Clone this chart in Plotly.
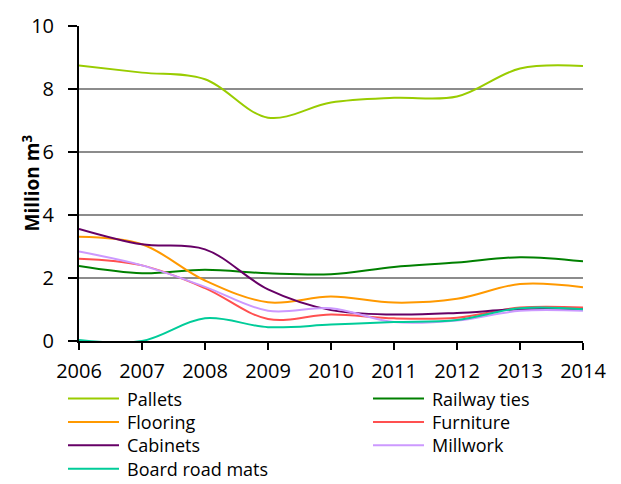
import plotly.graph_objects as go

years = [2006, 2007, 2008, 2009, 2010, 2011, 2012, 2013, 2014]

pallets = [8.75, 8.52, 8.31, 7.09, 7.57, 7.72, 7.76, 8.65, 8.73]
railway_ties = [2.38, 2.15, 2.26, 2.15, 2.12, 2.35, 2.49, 2.66, 2.53]
flooring = [3.31, 3.07, 1.92, 1.23, 1.41, 1.22, 1.34, 1.81, 1.71]
furniture = [2.61, 2.40, 1.68, 0.70, 0.84, 0.72, 0.74, 1.06, 1.06]
cabinets = [3.56, 3.07, 2.91, 1.64, 0.98, 0.84, 0.89, 1.01, 1.01]
millwork = [2.84, 2.40, 1.72, 0.96, 1.04, 0.60, 0.65, 0.96, 0.96]
board_road_mats = [0.03, 0.0, 0.72, 0.44, 0.52, 0.60, 0.67, 1.04, 1.01]

series_names = ["Pallets", "Railway ties", "Flooring", "Furniture",
                "Cabinets", "Millwork", "Board road mats"]
series_values = [pallets, railway_ties, flooring, furniture,
                 cabinets, millwork, board_road_mats]
series_colors = ["#99CC00", "#008000", "#FF9900", "#FF5050",
                 "#660066", "#CC99FF", "#00CC99"]

y_title = "<b>Million m<sup>3</sup></b>"
FONT = "Open Sans"

fig = go.Figure()
for name, vals, col in zip(series_names, series_values, series_colors):
    fig.add_trace(go.Scatter(
        x=years, y=vals, name=name, mode="lines",
        line=dict(color=col, width=2, shape="spline", smoothing=1),
        showlegend=False,
    ))

# plot area geometry (pixels) used to place the manual legend
W, H = 621, 484
ML, MR, MT, MB = 79, 38, 18, 143
PW, PH = W - ML - MR, H - MT - MB


def px_x(px):
    return (px - ML) / PW


def px_y(py):
    return (H - MB - py) / PH


shapes = []
annotations = []
col_x = [68, 373]
row_y = [400, 424, 448, 472]
line_len = 51
for i, (name, col) in enumerate(zip(series_names, series_colors)):
    r, c = divmod(i, 2)
    x0 = col_x[c]
    y0 = row_y[r]
    shapes.append(dict(type="line", xref="paper", yref="paper",
                       x0=px_x(x0), x1=px_x(x0 + line_len),
                       y0=px_y(y0), y1=px_y(y0),
                       line=dict(color=col, width=2)))
    annotations.append(dict(text=name, xref="paper", yref="paper",
                            x=px_x(x0 + line_len + 6), y=px_y(y0),
                            xanchor="left", yanchor="middle", showarrow=False,
                            font=dict(family=FONT, size=18, color="#000000")))

annotations.append(dict(text=y_title, xref="paper", yref="paper",
                        x=px_x(31), y=0.5, xanchor="center", yanchor="middle",
                        textangle=-90, showarrow=False,
                        font=dict(family=FONT, size=19, color="#000000")))

fig.update_layout(
    width=W, height=H,
    margin=dict(l=ML, r=MR, t=MT, b=MB, pad=0),
    paper_bgcolor="white", plot_bgcolor="white",
    font=dict(family=FONT, size=20, color="#000000"),
    shapes=shapes, annotations=annotations,
    showlegend=False,
)
fig.update_xaxes(
    range=[2006, 2014], tickvals=years, ticktext=[str(y) for y in years],
    showline=True, linecolor="#000000", linewidth=2,
    ticks="outside", ticklen=7, tickwidth=2, tickcolor="#000000",
    showgrid=False, zeroline=False, ticklabelstandoff=4,
    tickfont=dict(family=FONT, size=20, color="#000000"),
)
fig.update_yaxes(
    range=[0, 10], dtick=2, tick0=0,
    showline=True, linecolor="#000000", linewidth=2,
    ticks="outside", ticklen=9, tickwidth=2, tickcolor="#000000",
    showgrid=True, gridcolor="#8C8C8C", gridwidth=2, zeroline=False,
    ticklabelstandoff=10,
    tickfont=dict(family=FONT, size=20, color="#000000"),
)

fig.write_html("out.html")
